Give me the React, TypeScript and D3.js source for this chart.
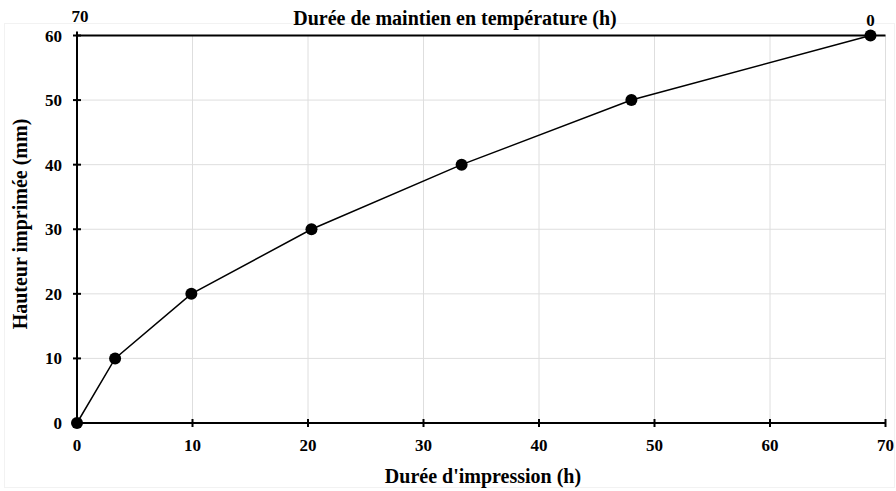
import React from "react";
import * as d3 from "d3";

const printTime = [0, 3.3, 9.9, 20.3, 33.3, 48.0, 68.7];
const height = [0, 10, 20, 30, 40, 50, 60];
const xTicks = [0, 10, 20, 30, 40, 50, 60, 70];
const yTicks = [0, 10, 20, 30, 40, 50, 60];
const topLabels = ["70", "0"];
const topTitle = "Durée de maintien en température (h)";
const xTitle = "Durée d'impression (h)";
const yTitle = "Hauteur imprimée (mm)";

export default function App() {
  const W = 896, H = 491;
  const x = d3.scaleLinear().domain([0, 70]).range([77, 885.5]);
  const y = d3.scaleLinear().domain([0, 60]).range([423, 35.5]);
  const line = d3.line<number>().x((_, i) => x(printTime[i])).y((d) => y(d));
  const font = "'Liberation Serif', 'Times New Roman', serif";
  return (
    <svg width={W} height={H} style={{ position: "absolute", left: 0, top: 0 }} fontFamily={font}>
      <rect x={0} y={0} width={W} height={H} fill="white" />
      <rect x={4.5} y={23.5} width={890} height={464} fill="none" stroke="#f2f2f2" />
      {xTicks.slice(1).map((t) => (
        <line key={"gx" + t} x1={x(t)} x2={x(t)} y1={y(0)} y2={y(60)} stroke="#dedede" strokeWidth={1} />
      ))}
      {yTicks.slice(1).map((t) => (
        <line key={"gy" + t} x1={x(0)} x2={x(70)} y1={y(t)} y2={y(t)} stroke="#dedede" strokeWidth={1} />
      ))}
      {/* axes */}
      <line x1={x(0)} x2={x(70)} y1={y(0)} y2={y(0)} stroke="#000" strokeWidth={2} />
      <line x1={x(0)} x2={x(70)} y1={y(60)} y2={y(60)} stroke="#000" strokeWidth={2} />
      <line x1={x(0)} x2={x(0)} y1={y(0)} y2={y(60) - 4} stroke="#000" strokeWidth={2} />
      {xTicks.map((t) => (
        <g key={"tx" + t}>
          <line x1={x(t)} x2={x(t)} y1={y(0) - 4} y2={y(0) + 4} stroke="#000" strokeWidth={2} />
          <text x={x(t)} y={451} textAnchor="middle" fontSize={17} fontWeight="bold">{t}</text>
        </g>
      ))}
      {yTicks.map((t) => (
        <g key={"ty" + t}>
          <line x1={x(0) - 4} x2={x(0) + 4} y1={y(t)} y2={y(t)} stroke="#000" strokeWidth={2} />
          <text x={62} y={y(t) + 6} textAnchor="end" fontSize={17} fontWeight="bold">{t}</text>
        </g>
      ))}
      <text x={80} y={22} textAnchor="middle" fontSize={17} fontWeight="bold">{topLabels[0]}</text>
      <text x={x(printTime[printTime.length - 1])} y={26} textAnchor="middle" fontSize={17} fontWeight="bold">{topLabels[1]}</text>
      <text x={455} y={25} textAnchor="middle" fontSize={20} fontWeight="bold">{topTitle}</text>
      <text x={483} y={483} textAnchor="middle" fontSize={20} fontWeight="bold">{xTitle}</text>
      <text transform={`translate(27,224) rotate(-90)`} textAnchor="middle" fontSize={20} fontWeight="bold">{yTitle}</text>
      <path d={line(height) || ""} fill="none" stroke="#000" strokeWidth={1.5} />
      {height.map((h, i) => (
        <circle key={"p" + i} cx={x(printTime[i])} cy={y(h)} r={6} fill="#000" />
      ))}
    </svg>
  );
}
